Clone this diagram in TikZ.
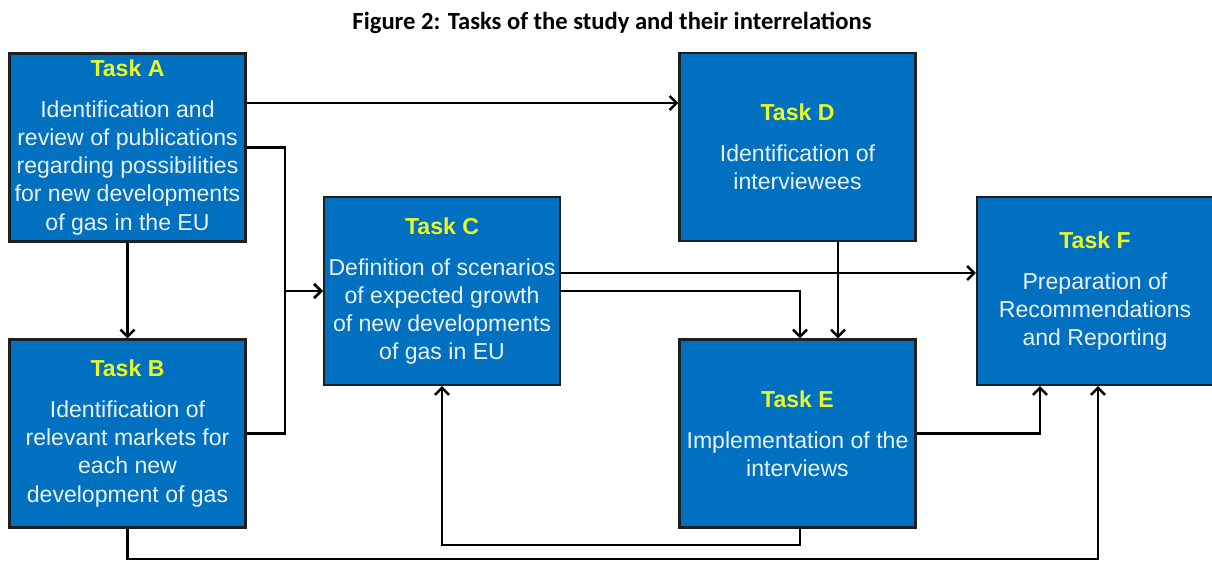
\documentclass[tikz,border=0pt]{standalone}
\usepackage{fontspec}
\setmainfont{Liberation Sans}
\newfontfamily\capfont{Carlito}
\usetikzlibrary{arrows.meta}
\definecolor{taskblue}{RGB}{0,112,192}
\definecolor{taskedge}{RGB}{30,30,35}
\definecolor{taskyellow}{RGB}{235,248,40}
\definecolor{tasktext}{RGB}{236,242,250}
\newcommand{\tasklabel}[1]{{\bfseries\color{taskyellow}#1}\\[9pt]}
\tikzset{
	task/.style={draw=taskedge, line width=1.5pt, fill=taskblue, text=tasktext,
		minimum width=5.9cm, minimum height=4.7cm, align=center,
		font=\fontsize{16.4}{20}\selectfont, inner sep=2pt},
	link/.style={line width=1.8pt, -{Straight Barb[length=5pt,width=10pt]}}
}
\begin{document}
\begin{tikzpicture}[x=0.025cm, y=-0.025cm]
	\useasboundingbox (0,0) rectangle (1212,561);
	\node[font=\capfont\bfseries\fontsize{17.5}{20}\selectfont] (cap) at (612,23) {Figure 2: Tasks of the study and their interrelations};
	\node[task] (A) at (127.5,147.5) {\tasklabel{Task A}Identification and\\review of publications\\regarding possibilities\\for new developments\\of gas in the EU};
	\node[task] (B) at (127.5,433.5) {\tasklabel{Task B}Identification of\\relevant markets for\\each new\\development of gas};
	\node[task] (C) at (442,291) {\tasklabel{Task C}Definition of scenarios\\of expected growth\\of new developments\\of gas in EU};
	\node[task] (D) at (797.5,147) {\tasklabel{Task D}Identification of\\interviewees};
	\node[task] (E) at (797.5,433.5) {\tasklabel{Task E}Implementation of the\\interviews};
	\node[task] (F) at (1095,291) {\tasklabel{Task F}Preparation of\\Recommendations\\and Reporting};
	\coordinate (merge) at (285,291);
	\draw[link] (A.east |- 0,103) -- (D.west |- 0,103);
	\draw[link] (A.east) -| (merge) -- (C.west);
	\draw[link] (B.east) -| (merge) -- (C.west);
	\draw[link] (A.south) -- (B.north);
	\draw[link] (C.east |- 0,273) -- (F.west |- 0,273);
	\draw[link] (C.east) -| (E.north -| 800,0);
	\draw[link] (D.south -| 838,0) -- (E.north -| 838,0);
	\draw[link] (E.east) -| (F.south -| 1040,0);
	\draw[link] (E.south -| 800,0) -- (800,545) -| (C.south);
	\draw[link] (B.south) -- (B.south |- 0,559) -| (F.south -| 1098,0);
\end{tikzpicture}
\end{document}
